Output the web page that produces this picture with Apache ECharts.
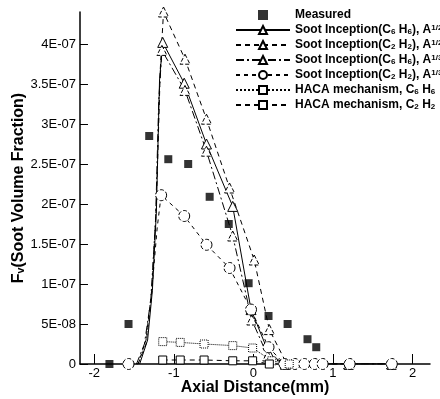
<!DOCTYPE html>
<html>
<head>
<meta charset="utf-8">
<title>Soot volume fraction</title>
<script src="https://cdn.jsdelivr.net/npm/echarts@6/dist/echarts.min.js"></script>
<style>
  html, body { margin: 0; padding: 0; background: #fff; }
  #chart { width: 440px; height: 399px; }
</style>
</head>
<body>
<div id="chart"></div>
<script>
// axis ticks
var xTicks = [-2, -1, 0, 1, 2];
var yTicks = [0, 5e-8, 1e-7, 1.5e-7, 2e-7, 2.5e-7, 3e-7, 3.5e-7, 4e-7];
var yTickLabels = ['0', '5E-08', '1E-07', '1.5E-07', '2E-07', '2.5E-07', '3E-07', '3.5E-07', '4E-07'];

var seriesNames = [
  'Measured',
  'Soot Inception(C6 H6), A1/2',
  'Soot Inception(C2 H2), A1/2',
  'Soot Inception(C6 H6), A1/3',
  'Soot Inception(C2 H2), A1/3',
  'HACA mechanism, C6 H6',
  'HACA mechanism, C2 H2'
];

// measured points
var measX = [-1.81, -1.57, -1.31, -1.07, -0.82, -0.55, -0.31, -0.06, 0.19, 0.43, 0.68, 0.79];
var measY = [0, 5.0e-8, 2.85e-7, 2.56e-7, 2.50e-7, 2.09e-7, 1.75e-7, 1.01e-7, 6.0e-8, 5.0e-8, 3.1e-8, 2.1e-8];

// model curves (bare = bends drawn without a marker)
var s1X = [-1.43, -1.33, -1.27, -1.22, -1.18, -1.14, -0.87, -0.59, -0.26, -0.03, 0.2, 0.4, 1.2, 1.74];
var s1Y = [0, 3.0e-8, 9.2e-8, 1.9e-7, 3.55e-7, 4.02e-7, 3.51e-7, 2.75e-7, 1.97e-7, 6.8e-8, 1.2e-8, 0, 0, 0];
var s1Bare = [-1.43, -1.33, -1.27, -1.22, -1.18];

var s2X = [-1.45, -1.35, -1.28, -1.22, -1.17, -1.13, -0.86, -0.59, -0.3, 0.01, 0.2, 0.42, 1.2, 1.74];
var s2Y = [0, 2.5e-8, 8.5e-8, 2.0e-7, 3.7e-7, 4.4e-7, 3.81e-7, 3.06e-7, 2.2e-7, 1.3e-7, 4.3e-8, 0, 0, 0];
var s2Bare = [-1.45, -1.35, -1.28, -1.22, -1.17];

var s3X = [-1.47, -1.37, -1.29, -1.23, -1.19, -1.15, -0.86, -0.59, -0.26, -0.02, 0.18, 0.4, 1.2, 1.74];
var s3Y = [0, 2.5e-8, 8.0e-8, 1.8e-7, 3.3e-7, 3.92e-7, 3.42e-7, 2.66e-7, 1.6e-7, 5.5e-8, 1.0e-8, 0, 0, 0];
var s3Bare = [-1.47, -1.37, -1.29, -1.23, -1.19];

var s4X = [-1.57, -1.45, -1.35, -1.27, -1.21, -1.16, -0.87, -0.59, -0.3, -0.03, 0.19, 0.39, 0.52, 0.64, 0.77, 0.87, 1.21, 1.74];
var s4Y = [0, 0, 3.0e-8, 1.0e-7, 1.7e-7, 2.11e-7, 1.85e-7, 1.49e-7, 1.2e-7, 6.8e-8, 2.1e-8, 0, 0, 0, 0, 0, 0, 0];
var s4Bare = [-1.45, -1.35, -1.27, -1.21];

var h1X = [-1.14, -0.92, -0.62, -0.26, -0.01, 0.23, 0.45];
var h1Y = [2.8e-8, 2.7e-8, 2.5e-8, 2.3e-8, 2.0e-8, 4.0e-9, 0];

var h2X = [-1.14, -0.92, -0.62, -0.26, -0.01, 0.2];
var h2Y = [5.0e-9, 5.0e-9, 5.0e-9, 4.0e-9, 4.0e-9, 0];

function pts(xs, ys, bare) {
  return xs.map(function (x, i) {
    var d = { value: [x, ys[i]] };
    if (bare && bare.indexOf(x) >= 0) d.symbol = 'none';
    return d;
  });
}

function model(name, xs, ys, bare, sym, size, lineType, markType) {
  return {
    name: name,
    type: 'line',
    data: pts(xs, ys, bare),
    symbol: sym,
    symbolSize: size,
    showAllSymbol: true,
    lineStyle: { color: '#000', width: 1, type: lineType },
    itemStyle: { color: '#fff', borderColor: '#000', borderWidth: 1, borderType: markType },
    emphasis: { disabled: true },
    z: 3
  };
}

var fontFam = "'Liberation Sans', Arial, sans-serif";

var legendData = seriesNames.map(function (n, i) {
  // measured keeps a small square icon, the models show line + marker
  return i === 0 ? { name: n, icon: 'path://M0,0h10v10h-10z' } : { name: n };
});

var chart = echarts.init(document.getElementById('chart'));
var option = {
  animation: false,
  backgroundColor: '#fff',
  grid: { left: 80, right: 10, top: 12, bottom: 35, outerBoundsMode: 'none', containLabel: false },
  legend: {
    orient: 'vertical',
    align: 'left',
    left: 230,
    top: 4,
    itemWidth: 54,
    itemHeight: 10,
    itemGap: 3,
    data: legendData,
    formatter: function (name) {
      return name.replace(/([CH])(\d)/g, '$1{sub|$2}').replace(/A(1\/\d)/, 'A{sup|$1}');
    },
    textStyle: {
      fontFamily: fontFam, fontSize: 12, fontWeight: 'bold', color: '#000', lineHeight: 12,
      rich: {
        sub: { fontFamily: fontFam, fontSize: 8, fontWeight: 'bold', verticalAlign: 'bottom', lineHeight: 9, padding: [4, 0, 0, 0] },
        sup: { fontFamily: fontFam, fontSize: 8, fontWeight: 'bold', verticalAlign: 'top', lineHeight: 9 }
      }
    }
  },
  xAxis: {
    type: 'value',
    min: -2.18,
    max: 2.22,
    name: 'Axial Distance(mm)',
    nameLocation: 'middle',
    nameGap: 16,
    nameMoveOverlap: false,
    nameTextStyle: { fontFamily: fontFam, fontSize: 16, fontWeight: 'bold', color: '#000' },
    splitLine: { show: false },
    axisLine: { onZero: false, lineStyle: { color: '#000', width: 1.5 } },
    axisTick: { inside: true, length: 10, customValues: xTicks, lineStyle: { color: '#000' } },
    axisLabel: { customValues: xTicks, margin: 3, fontFamily: fontFam, fontSize: 13, color: '#000' }
  },
  yAxis: {
    type: 'value',
    min: 0,
    max: 4.4e-7,
    name: 'F\u1D65(Soot Volume Fraction)',
    nameLocation: 'middle',
    nameGap: 53,
    nameMoveOverlap: false,
    nameTextStyle: { fontFamily: fontFam, fontSize: 16, fontWeight: 'bold', color: '#000' },
    splitLine: { show: false },
    axisLine: { onZero: false, lineStyle: { color: '#000', width: 1.5 } },
    axisTick: { inside: true, length: 8, customValues: yTicks, lineStyle: { color: '#000' } },
    axisLabel: {
      customValues: yTicks,
      margin: 4,
      fontFamily: fontFam,
      fontSize: 13,
      color: '#000',
      formatter: function (v) {
        var i = Math.round(v / 5e-8);
        return yTickLabels[i] || '';
      }
    }
  },
  series: [
    {
      name: seriesNames[0],
      type: 'scatter',
      data: measX.map(function (x, i) { return [x, measY[i]]; }),
      symbol: 'rect',
      symbolSize: 8,
      itemStyle: { color: '#000' },
      z: 5
    },
    model(seriesNames[1], s1X, s1Y, s1Bare, 'triangle', 10, 'solid', 'solid'),
    model(seriesNames[2], s2X, s2Y, s2Bare, 'triangle', 10, [5, 4], 'dashed'),
    model(seriesNames[3], s3X, s3Y, s3Bare, 'triangle', 10, [8, 3, 2, 3], 'dashed'),
    model(seriesNames[4], s4X, s4Y, s4Bare, 'circle', 11, [4, 4], 'dashed'),
    model(seriesNames[5], h1X, h1Y, null, 'rect', 8, 'dotted', 'dotted'),
    model(seriesNames[6], h2X, h2Y, null, 'rect', 8, [5, 4], 'solid')
  ]
};
chart.setOption(option);
</script>
</body>
</html>
